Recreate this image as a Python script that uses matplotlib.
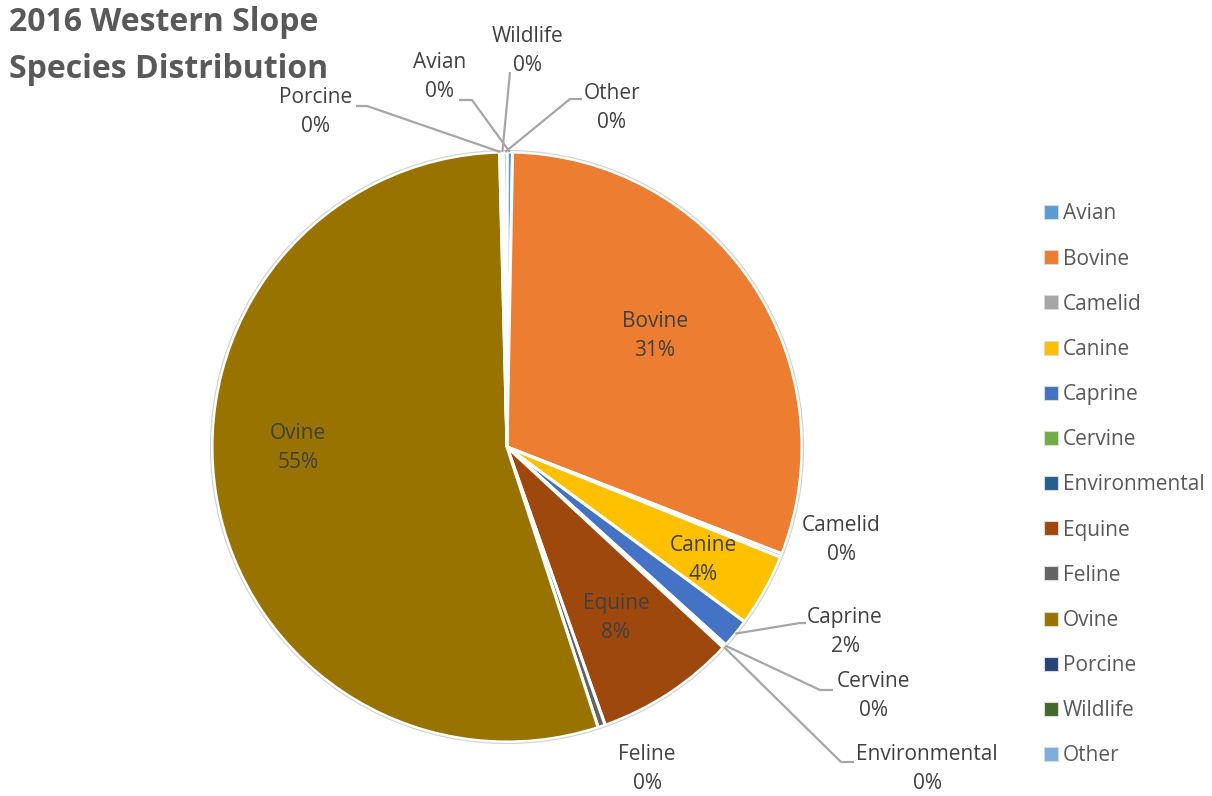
import numpy as np
import matplotlib.pyplot as plt
from matplotlib.patches import Circle, Patch

plt.rcParams['font.family'] = ['Open Sans', 'DejaVu Sans']

# Data (andel i prosent, lest av figuren)
arter = ["Avian", "Bovine", "Camelid", "Canine", "Caprine", "Cervine", "Environmental",
         "Equine", "Feline", "Ovine", "Porcine", "Wildlife", "Other"]
andel = [0.3, 30.6, 0.2, 4.0, 1.6, 0.1, 0.1, 7.7, 0.4, 54.6, 0.1, 0.1, 0.2]
farger = ["#5B9BD5", "#ED7D31", "#A5A5A5", "#FFC000", "#4472C4", "#70AD47", "#255E91",
          "#9E480E", "#636363", "#997300", "#264478", "#43682B", "#7CAFDD"]
tittel = "2016 Western Slope\nSpecies Distribution"

W, H = 1212, 796
senter = (507, 447)   # piksler, målt fra toppen
radius = 295

# Plassering av etiketter (piksler fra toppen): tekstsenter, og evt. knekkpunkt + endepunkt for strek
inne = {"Bovine": (655, 336), "Canine": (703, 560), "Equine": (616, 618), "Ovine": (298, 448)}
ute = {
    "Camelid": ((841, 540), None),
    "Caprine": ((845, 632), [(800, 623), (806, 623)]),
    "Cervine": ((873, 696), [(820, 690), (833, 690)]),
    "Environmental": ((927, 769), [(841, 762), (854, 762)]),
    "Feline": ((647, 769), None),
    "Porcine": ((316, 112), [(367, 106), (356, 106)]),
    "Avian": ((440, 77), [(472, 100), (459, 100)]),
    "Wildlife": ((528, 51), [(510, 72)]),
    "Other": ((612, 108), [(570, 99), (582, 99)]),
}


def py(y):
    return H - y


fig = plt.figure(figsize=(W / 100, H / 100), dpi=100)
ax = fig.add_axes([0, 0, 1, 1])
ax.set_xlim(0, W)
ax.set_ylim(0, H)
ax.set_aspect("equal")
ax.axis("off")

kake, _ = ax.pie(andel, colors=farger, startangle=90, counterclock=False,
                 center=(senter[0], py(senter[1])), radius=radius,
                 wedgeprops=dict(edgecolor="white", linewidth=2.2))
ax.add_patch(Circle((senter[0], py(senter[1])), radius + 1.5, fill=False,
                    edgecolor="#d0d0d0", linewidth=0.8))
ax.set_xlim(0, W)
ax.set_ylim(0, H)

total = sum(andel)
for kile, navn, verdi in zip(kake, arter, andel):
    tekst = f"{navn}\n{verdi / total * 100:.0f}%"
    if navn in inne:
        x, y = inne[navn]
        ax.text(x, py(y), tekst, ha="center", va="center", fontsize=15,
                color="#404040", linespacing=1.55)
    else:
        (x, y), strek = ute[navn]
        ax.text(x, py(y), tekst, ha="center", va="center", fontsize=15,
                color="#404040", linespacing=1.55)
        if strek:
            midt = np.radians((kile.theta1 + kile.theta2) / 2)
            ax_x = [senter[0] + radius * np.cos(midt)]
            ax_y = [py(senter[1]) + radius * np.sin(midt)]
            for px_, py_ in strek:
                ax_x.append(px_)
                ax_y.append(py(py_))
            ax.plot(ax_x, ax_y, color="#a6a6a6", linewidth=1.6, solid_capstyle="butt")

fig.text(9 / W, 1 - 6 / H, tittel, ha="left", va="top", fontsize=23,
         fontweight="bold", color="#595959", linespacing=1.55)

handles = [Patch(facecolor=f, edgecolor="#d9d9d9", linewidth=0.8) for f in farger]
ax.legend(handles, arter, loc="upper left", bbox_to_anchor=(1034 / W, 1 - 193 / H),
          bbox_transform=fig.transFigure, frameon=False, fontsize=15,
          labelcolor="#595959", handlelength=0.65, handleheight=0.65,
          handletextpad=0.25, labelspacing=1.16, borderpad=0)

fig.savefig("out.png", dpi=100)
